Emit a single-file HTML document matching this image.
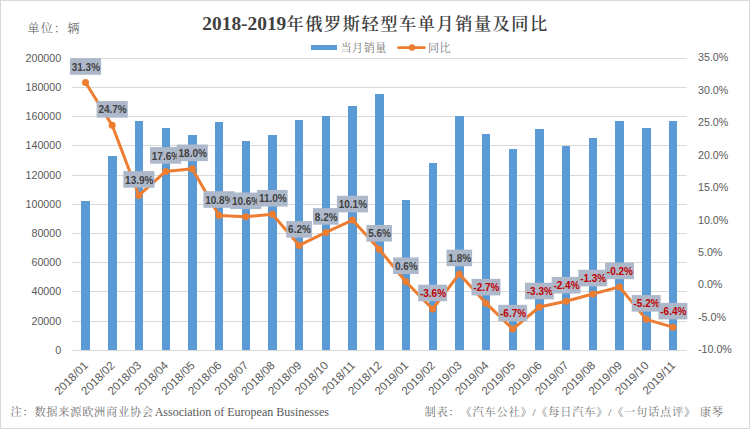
<!DOCTYPE html><html><head><meta charset="utf-8"><title>2018-2019年俄罗斯轻型车单月销量及同比</title>
<style>html,body{margin:0;padding:0;background:#fff;}svg{display:block;}.ax{font-family:'Liberation Sans', 'Noto Sans CJK SC', sans-serif;font-size:10.7px;fill:#595959;}.xl{font-family:'Liberation Sans', 'Noto Sans CJK SC', sans-serif;font-size:11.6px;fill:#595959;}.dl{font-family:'Liberation Sans', 'Noto Sans CJK SC', sans-serif;font-size:10px;font-weight:bold;letter-spacing:0px;}.cj{font-family:'Liberation Serif', 'Noto Serif CJK SC', serif;fill:#595959;text-spacing-trim:space-all;}</style></head><body>
<svg width="750" height="429" viewBox="0 0 750 429">
<rect x="0" y="0" width="750" height="429" fill="#fff"/>
<rect x="0.5" y="0.5" width="749" height="428" fill="none" stroke="#D9D9D9" stroke-width="1"/>
<text x="202.3" y="30.2" style="font-family:'Liberation Serif', 'Noto Serif CJK SC', serif;font-size:19.4px;font-weight:bold;fill:#404040;">2018-2019</text>
<text x="286.5" y="29.7" style="font-family:'Liberation Serif', 'Noto Serif CJK SC', serif;font-size:17.2px;letter-spacing:1.55px;font-weight:600;fill:#404040;">年俄罗斯轻型车单月销量及同比</text>
<text class="cj" x="27.5" y="32.5" style="font-size:12px;letter-spacing:1.3px;font-weight:300">单位：辆</text>
<rect x="311" y="45" width="26" height="5" fill="#5B9BD5"/>
<text class="cj" x="340.5" y="51.5" style="font-size:11px;letter-spacing:0.6px;font-weight:300">当月销量</text>
<line x1="398.5" y1="47.5" x2="424.5" y2="47.5" stroke="#ED7D31" stroke-width="2.75" stroke-linecap="round"/>
<circle cx="412" cy="47.5" r="3.2" fill="#ED7D31"/>
<text class="cj" x="428" y="51.5" style="font-size:11px;letter-spacing:0.6px;font-weight:300">同比</text>
<rect x="72" y="58" width="614.7" height="1" fill="#D9D9D9"/>
<rect x="72" y="87" width="614.7" height="1" fill="#D9D9D9"/>
<rect x="72" y="116" width="614.7" height="1" fill="#D9D9D9"/>
<rect x="72" y="145" width="614.7" height="1" fill="#D9D9D9"/>
<rect x="72" y="175" width="614.7" height="1" fill="#D9D9D9"/>
<rect x="72" y="204" width="614.7" height="1" fill="#D9D9D9"/>
<rect x="72" y="233" width="614.7" height="1" fill="#D9D9D9"/>
<rect x="72" y="262" width="614.7" height="1" fill="#D9D9D9"/>
<rect x="72" y="291" width="614.7" height="1" fill="#D9D9D9"/>
<rect x="72" y="321" width="614.7" height="1" fill="#D9D9D9"/>
<rect x="72" y="350" width="614.7" height="1" fill="#D9D9D9"/>
<text class="ax" x="61.2" y="61.5" text-anchor="end">200000</text>
<text class="ax" x="61.2" y="90.5" text-anchor="end">180000</text>
<text class="ax" x="61.2" y="119.5" text-anchor="end">160000</text>
<text class="ax" x="61.2" y="148.5" text-anchor="end">140000</text>
<text class="ax" x="61.2" y="178.5" text-anchor="end">120000</text>
<text class="ax" x="61.2" y="207.5" text-anchor="end">100000</text>
<text class="ax" x="61.2" y="236.5" text-anchor="end">80000</text>
<text class="ax" x="61.2" y="265.5" text-anchor="end">60000</text>
<text class="ax" x="61.2" y="294.5" text-anchor="end">40000</text>
<text class="ax" x="61.2" y="324.5" text-anchor="end">20000</text>
<text class="ax" x="61.2" y="353.5" text-anchor="end">0</text>
<text class="ax" x="698" y="61.3">35.0%</text>
<text class="ax" x="698" y="93.7">30.0%</text>
<text class="ax" x="698" y="126.2">25.0%</text>
<text class="ax" x="698" y="158.6">20.0%</text>
<text class="ax" x="698" y="191.1">15.0%</text>
<text class="ax" x="698" y="223.5">10.0%</text>
<text class="ax" x="698" y="256.0">5.0%</text>
<text class="ax" x="698" y="288.4">0.0%</text>
<text class="ax" x="698" y="320.9">-5.0%</text>
<text class="ax" x="698" y="353.3">-10.0%</text>
<rect x="81" y="201" width="9" height="149" fill="#5B9BD5"/>
<rect x="108" y="156" width="9" height="194" fill="#5B9BD5"/>
<rect x="135" y="121" width="8" height="229" fill="#5B9BD5"/>
<rect x="162" y="128" width="8" height="222" fill="#5B9BD5"/>
<rect x="188" y="135" width="9" height="215" fill="#5B9BD5"/>
<rect x="215" y="122" width="8" height="228" fill="#5B9BD5"/>
<rect x="242" y="141" width="8" height="209" fill="#5B9BD5"/>
<rect x="268" y="135" width="9" height="215" fill="#5B9BD5"/>
<rect x="295" y="120" width="8" height="230" fill="#5B9BD5"/>
<rect x="322" y="116" width="8" height="234" fill="#5B9BD5"/>
<rect x="348" y="106" width="9" height="244" fill="#5B9BD5"/>
<rect x="375" y="94" width="9" height="256" fill="#5B9BD5"/>
<rect x="402" y="200" width="8" height="150" fill="#5B9BD5"/>
<rect x="429" y="163" width="8" height="187" fill="#5B9BD5"/>
<rect x="455" y="116" width="9" height="234" fill="#5B9BD5"/>
<rect x="482" y="134" width="8" height="216" fill="#5B9BD5"/>
<rect x="509" y="149" width="8" height="201" fill="#5B9BD5"/>
<rect x="535" y="129" width="9" height="221" fill="#5B9BD5"/>
<rect x="562" y="146" width="8" height="204" fill="#5B9BD5"/>
<rect x="589" y="138" width="8" height="212" fill="#5B9BD5"/>
<rect x="615" y="121" width="9" height="229" fill="#5B9BD5"/>
<rect x="642" y="128" width="9" height="222" fill="#5B9BD5"/>
<rect x="669" y="121" width="8" height="229" fill="#5B9BD5"/>
<polyline points="85.50,82.51 112.20,125.34 138.90,195.42 165.60,171.41 192.30,168.81 219.00,215.53 245.70,216.83 272.40,214.23 299.10,245.38 325.80,232.40 352.50,220.07 379.20,249.27 405.90,281.72 432.60,308.97 459.30,273.93 486.00,303.13 512.70,329.09 539.40,307.02 566.10,301.18 592.80,294.05 619.50,286.91 646.20,319.35 672.90,327.14" fill="none" stroke="#ED7D31" stroke-width="3" stroke-linejoin="round" stroke-linecap="round"/>
<circle cx="85.50" cy="82.51" r="3.5" fill="#ED7D31"/>
<circle cx="112.20" cy="125.34" r="3.5" fill="#ED7D31"/>
<circle cx="138.90" cy="195.42" r="3.5" fill="#ED7D31"/>
<circle cx="165.60" cy="171.41" r="3.5" fill="#ED7D31"/>
<circle cx="192.30" cy="168.81" r="3.5" fill="#ED7D31"/>
<circle cx="219.00" cy="215.53" r="3.5" fill="#ED7D31"/>
<circle cx="245.70" cy="216.83" r="3.5" fill="#ED7D31"/>
<circle cx="272.40" cy="214.23" r="3.5" fill="#ED7D31"/>
<circle cx="299.10" cy="245.38" r="3.5" fill="#ED7D31"/>
<circle cx="325.80" cy="232.40" r="3.5" fill="#ED7D31"/>
<circle cx="352.50" cy="220.07" r="3.5" fill="#ED7D31"/>
<circle cx="379.20" cy="249.27" r="3.5" fill="#ED7D31"/>
<circle cx="405.90" cy="281.72" r="3.5" fill="#ED7D31"/>
<circle cx="432.60" cy="308.97" r="3.5" fill="#ED7D31"/>
<circle cx="459.30" cy="273.93" r="3.5" fill="#ED7D31"/>
<circle cx="486.00" cy="303.13" r="3.5" fill="#ED7D31"/>
<circle cx="512.70" cy="329.09" r="3.5" fill="#ED7D31"/>
<circle cx="539.40" cy="307.02" r="3.5" fill="#ED7D31"/>
<circle cx="566.10" cy="301.18" r="3.5" fill="#ED7D31"/>
<circle cx="592.80" cy="294.05" r="3.5" fill="#ED7D31"/>
<circle cx="619.50" cy="286.91" r="3.5" fill="#ED7D31"/>
<circle cx="646.20" cy="319.35" r="3.5" fill="#ED7D31"/>
<circle cx="672.90" cy="327.14" r="3.5" fill="#ED7D31"/>
<rect x="69.92" y="58.21" width="31.15" height="16.6" fill="#ADB9CA"/>
<text class="dl" x="85.90" y="70.61" text-anchor="middle" fill="#404040">31.3%</text>
<rect x="96.62" y="101.04" width="31.15" height="16.6" fill="#ADB9CA"/>
<text class="dl" x="112.60" y="113.44" text-anchor="middle" fill="#404040">24.7%</text>
<rect x="123.32" y="171.12" width="31.15" height="16.6" fill="#ADB9CA"/>
<text class="dl" x="139.30" y="183.52" text-anchor="middle" fill="#404040">13.9%</text>
<rect x="150.02" y="147.11" width="31.15" height="16.6" fill="#ADB9CA"/>
<text class="dl" x="166.00" y="159.51" text-anchor="middle" fill="#404040">17.6%</text>
<rect x="176.72" y="144.51" width="31.15" height="16.6" fill="#ADB9CA"/>
<text class="dl" x="192.70" y="156.91" text-anchor="middle" fill="#404040">18.0%</text>
<rect x="203.42" y="191.23" width="31.15" height="16.6" fill="#ADB9CA"/>
<text class="dl" x="219.40" y="203.63" text-anchor="middle" fill="#404040">10.8%</text>
<rect x="230.12" y="192.53" width="31.15" height="16.6" fill="#ADB9CA"/>
<text class="dl" x="246.10" y="204.93" text-anchor="middle" fill="#404040">10.6%</text>
<rect x="257.10" y="189.93" width="30.60" height="16.6" fill="#ADB9CA"/>
<text class="dl" x="272.80" y="202.33" text-anchor="middle" fill="#404040">11.0%</text>
<rect x="286.30" y="221.08" width="25.59" height="16.6" fill="#ADB9CA"/>
<text class="dl" x="299.50" y="233.48" text-anchor="middle" fill="#404040">6.2%</text>
<rect x="313.00" y="208.10" width="25.59" height="16.6" fill="#ADB9CA"/>
<text class="dl" x="326.20" y="220.50" text-anchor="middle" fill="#404040">8.2%</text>
<rect x="336.92" y="195.77" width="31.15" height="16.6" fill="#ADB9CA"/>
<text class="dl" x="352.90" y="208.17" text-anchor="middle" fill="#404040">10.1%</text>
<rect x="366.40" y="224.97" width="25.59" height="16.6" fill="#ADB9CA"/>
<text class="dl" x="379.60" y="237.37" text-anchor="middle" fill="#404040">5.6%</text>
<rect x="393.10" y="257.42" width="25.59" height="16.6" fill="#ADB9CA"/>
<text class="dl" x="406.30" y="269.82" text-anchor="middle" fill="#404040">0.6%</text>
<rect x="418.14" y="284.67" width="28.92" height="16.6" fill="#ADB9CA"/>
<text class="dl" x="433.00" y="297.07" text-anchor="middle" fill="#C00000">-3.6%</text>
<rect x="446.50" y="249.63" width="25.59" height="16.6" fill="#ADB9CA"/>
<text class="dl" x="459.70" y="262.03" text-anchor="middle" fill="#404040">1.8%</text>
<rect x="471.54" y="278.83" width="28.92" height="16.6" fill="#ADB9CA"/>
<text class="dl" x="486.40" y="291.23" text-anchor="middle" fill="#C00000">-2.7%</text>
<rect x="498.24" y="304.79" width="28.92" height="16.6" fill="#ADB9CA"/>
<text class="dl" x="513.10" y="317.19" text-anchor="middle" fill="#C00000">-6.7%</text>
<rect x="524.94" y="282.72" width="28.92" height="16.6" fill="#ADB9CA"/>
<text class="dl" x="539.80" y="295.12" text-anchor="middle" fill="#C00000">-3.3%</text>
<rect x="551.64" y="276.88" width="28.92" height="16.6" fill="#ADB9CA"/>
<text class="dl" x="566.50" y="289.28" text-anchor="middle" fill="#C00000">-2.4%</text>
<rect x="578.34" y="269.75" width="28.92" height="16.6" fill="#ADB9CA"/>
<text class="dl" x="593.20" y="282.15" text-anchor="middle" fill="#C00000">-1.3%</text>
<rect x="605.04" y="262.61" width="28.92" height="16.6" fill="#ADB9CA"/>
<text class="dl" x="619.90" y="275.01" text-anchor="middle" fill="#C00000">-0.2%</text>
<rect x="631.74" y="295.05" width="28.92" height="16.6" fill="#ADB9CA"/>
<text class="dl" x="646.60" y="307.45" text-anchor="middle" fill="#C00000">-5.2%</text>
<rect x="658.44" y="302.84" width="28.92" height="16.6" fill="#ADB9CA"/>
<text class="dl" x="673.30" y="315.24" text-anchor="middle" fill="#C00000">-6.4%</text>
<text class="xl" x="88.80" y="366.20" text-anchor="end" transform="rotate(-45 88.80 366.20)">2018/01</text>
<text class="xl" x="115.50" y="366.20" text-anchor="end" transform="rotate(-45 115.50 366.20)">2018/02</text>
<text class="xl" x="142.20" y="366.20" text-anchor="end" transform="rotate(-45 142.20 366.20)">2018/03</text>
<text class="xl" x="168.90" y="366.20" text-anchor="end" transform="rotate(-45 168.90 366.20)">2018/04</text>
<text class="xl" x="195.60" y="366.20" text-anchor="end" transform="rotate(-45 195.60 366.20)">2018/05</text>
<text class="xl" x="222.30" y="366.20" text-anchor="end" transform="rotate(-45 222.30 366.20)">2018/06</text>
<text class="xl" x="249.00" y="366.20" text-anchor="end" transform="rotate(-45 249.00 366.20)">2018/07</text>
<text class="xl" x="275.70" y="366.20" text-anchor="end" transform="rotate(-45 275.70 366.20)">2018/08</text>
<text class="xl" x="302.40" y="366.20" text-anchor="end" transform="rotate(-45 302.40 366.20)">2018/09</text>
<text class="xl" x="329.10" y="366.20" text-anchor="end" transform="rotate(-45 329.10 366.20)">2018/10</text>
<text class="xl" x="355.80" y="366.20" text-anchor="end" transform="rotate(-45 355.80 366.20)">2018/11</text>
<text class="xl" x="382.50" y="366.20" text-anchor="end" transform="rotate(-45 382.50 366.20)">2018/12</text>
<text class="xl" x="409.20" y="366.20" text-anchor="end" transform="rotate(-45 409.20 366.20)">2019/01</text>
<text class="xl" x="435.90" y="366.20" text-anchor="end" transform="rotate(-45 435.90 366.20)">2019/02</text>
<text class="xl" x="462.60" y="366.20" text-anchor="end" transform="rotate(-45 462.60 366.20)">2019/03</text>
<text class="xl" x="489.30" y="366.20" text-anchor="end" transform="rotate(-45 489.30 366.20)">2019/04</text>
<text class="xl" x="516.00" y="366.20" text-anchor="end" transform="rotate(-45 516.00 366.20)">2019/05</text>
<text class="xl" x="542.70" y="366.20" text-anchor="end" transform="rotate(-45 542.70 366.20)">2019/06</text>
<text class="xl" x="569.40" y="366.20" text-anchor="end" transform="rotate(-45 569.40 366.20)">2019/07</text>
<text class="xl" x="596.10" y="366.20" text-anchor="end" transform="rotate(-45 596.10 366.20)">2019/08</text>
<text class="xl" x="622.80" y="366.20" text-anchor="end" transform="rotate(-45 622.80 366.20)">2019/09</text>
<text class="xl" x="649.50" y="366.20" text-anchor="end" transform="rotate(-45 649.50 366.20)">2019/10</text>
<text class="xl" x="676.20" y="366.20" text-anchor="end" transform="rotate(-45 676.20 366.20)">2019/11</text>
<text class="cj" x="10.5" y="416" style="font-size:11.2px;letter-spacing:0.75px;font-weight:300">注：数据来源欧洲商业协<tspan style="letter-spacing:0">会</tspan><tspan dx="1.6" style="letter-spacing:0;font-size:12px">Association of European Businesses</tspan></text>
<text class="cj" x="424.5" y="416" style="font-size:11.2px;letter-spacing:0.8px;font-weight:300">制表：《汽车公社》/《每日汽车》/《一句话点评》 康琴</text>
</svg></body></html>
